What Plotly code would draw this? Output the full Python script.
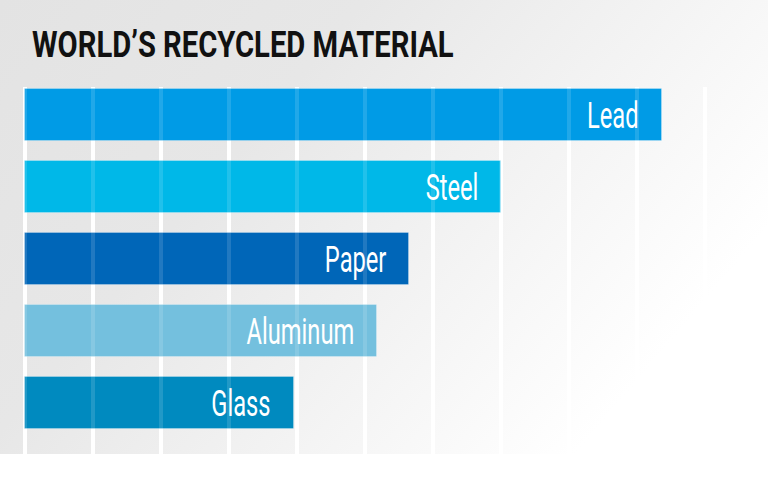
import base64
import plotly.graph_objects as go

# ---- data ----
materials = ["Lead", "Steel", "Paper", "Aluminum", "Glass"]
recycled_pct = [93.7, 70.0, 56.4, 51.7, 39.6]
bar_colors = ["#009be6", "#00b8e8", "#0066b8", "#74c0de", "#008abf"]
title_text = "WORLD\u2019S RECYCLED MATERIAL"

W, H = 768, 480
top_px, bottom_px = 87, 454          # plot area in pixels
plot_h = bottom_px - top_px

# gradient background as an SVG data image
svg = f'''<svg xmlns="http://www.w3.org/2000/svg" width="768" height="454" viewBox="0 0 768 454" preserveAspectRatio="none">
<defs><linearGradient id="g" x1="0" y1="0" x2="1" y2="0.5">
<stop offset="0" stop-color="#e3e3e3"/>
<stop offset="0.38" stop-color="#e7e7e7"/>
<stop offset="1" stop-color="#ffffff"/>
</linearGradient></defs>
<rect x="0" y="0" width="768" height="454" fill="url(#g)"/></svg>'''
bg_src = "data:image/svg+xml;base64," + base64.b64encode(svg.encode()).decode()

xrange_ = [-25 / 6.8, (W - 25) / 6.8]
yrange_ = [-0.709, 4.394]
order = list(reversed(materials))

fig = go.Figure()
fig.add_trace(go.Bar(
    y=materials, x=recycled_pct, orientation="h",
    marker=dict(color=bar_colors, line=dict(color="rgba(255,255,255,0.25)", width=1)),
    width=0.723, hoverinfo="x+y", xaxis="x", yaxis="y",
))
# empty trace on an identical second subplot to draw faint grid over the bars
fig.add_trace(go.Scatter(x=[None], y=[None], xaxis="x2", yaxis="y2",
                         hoverinfo="skip", showlegend=False))

for m, v in zip(materials, recycled_pct):
    fig.add_annotation(
        x=v, y=m, xref="x", yref="y", text=m, showarrow=False,
        xanchor="right", yanchor="middle", xshift=-21,
        font=dict(family="Roboto, sans-serif", size=37, color="white", weight=400),
    )

fig.add_annotation(
    x=30 / W, y=(bottom_px - 44.5) / plot_h, xref="paper", yref="paper",
    text=title_text, showarrow=False, xanchor="left", yanchor="middle",
    font=dict(family="Roboto, sans-serif", size=36.5, color="#111111", weight="bold"),
)

fig.add_layout_image(dict(
    source=bg_src, xref="paper", yref="paper",
    x=0, y=1 + top_px / plot_h, sizex=1, sizey=bottom_px / plot_h,
    xanchor="left", yanchor="top", sizing="stretch", layer="below",
))

axis_common = dict(showticklabels=False, zeroline=False, showline=False, ticks="", fixedrange=True)
fig.update_layout(
    width=W, height=H,
    margin=dict(l=0, r=0, t=top_px, b=H - bottom_px, pad=0),
    paper_bgcolor="white", plot_bgcolor="rgba(0,0,0,0)",
    showlegend=False, bargap=0,
    xaxis=dict(range=xrange_, dtick=10, tick0=0, showgrid=True, gridcolor="white", gridwidth=4,
               domain=[0, 1], anchor="y", **axis_common),
    yaxis=dict(range=yrange_, categoryorder="array", categoryarray=order, showgrid=False,
               domain=[0, 1], anchor="x", **axis_common),
    xaxis2=dict(range=xrange_, dtick=10, tick0=0, showgrid=True, gridcolor="rgba(255,255,255,0.13)",
                gridwidth=4, domain=[0, 1], anchor="y2", **axis_common),
    yaxis2=dict(range=[0, 1], showgrid=False, domain=[0, 1], anchor="x2", **axis_common),
)

# condensed look: squeeze text horizontally (no condensed font installed)
post = """
document.body.style.margin = '0';
var gd = document.getElementById('{plot_id}');
gd.querySelectorAll('text.annotation-text').forEach(function(t){
  var isTitle = t.textContent.indexOf('WORLD') === 0;
  t.style.transformBox = 'fill-box';
  t.style.transformOrigin = isTitle ? 'left center' : 'right center';
  t.style.transform = isTitle ? 'scaleX(0.8)' : 'scaleX(0.64)';
});
"""

fig.write_html("out.html", config={"displayModeBar": False}, post_script=post)
